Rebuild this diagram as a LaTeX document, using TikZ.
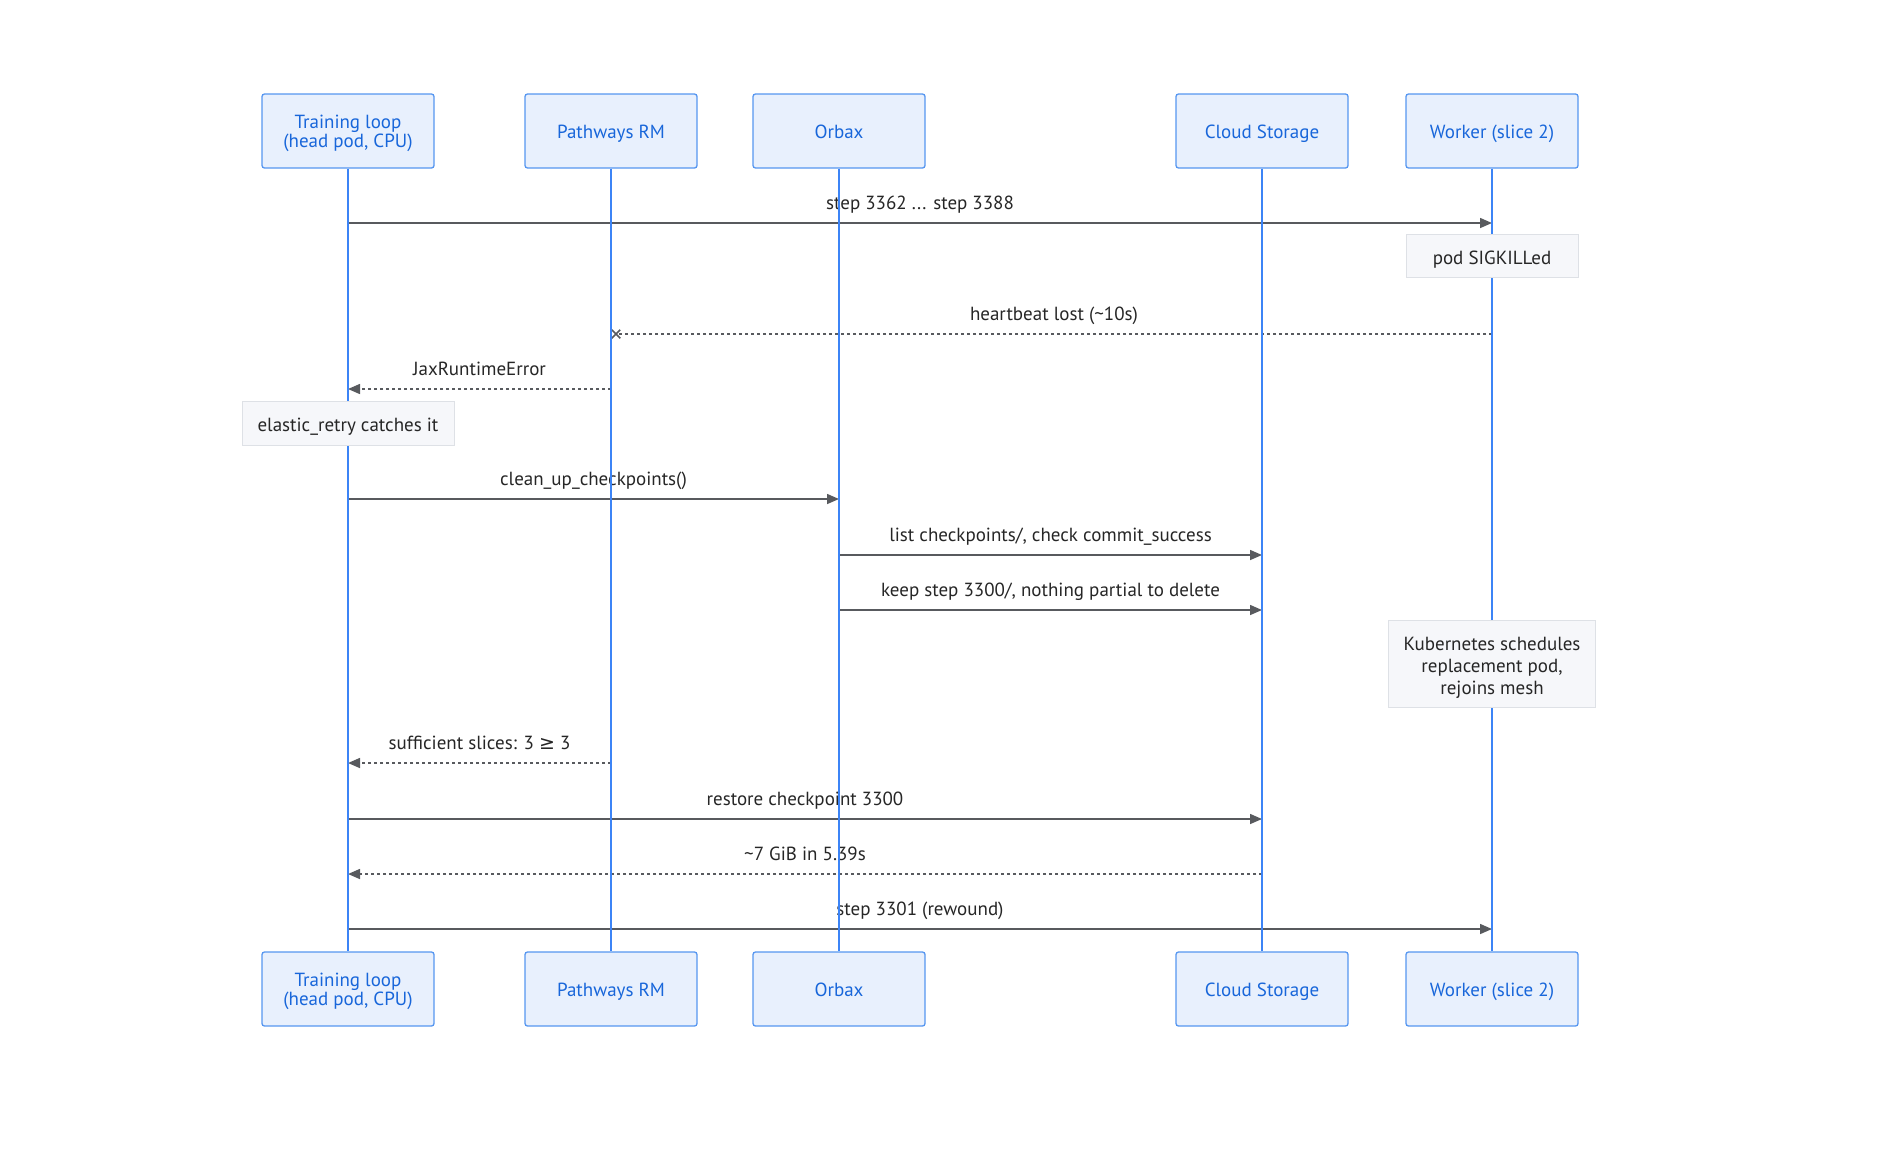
\documentclass[tikz,border=0pt]{standalone}
\usepackage{fontspec}
\setmainfont{PT Sans}
\newfontfamily\symfont{DejaVu Sans}
\usetikzlibrary{arrows.meta, shapes.misc}
\definecolor{actfill}{RGB}{232,240,253}
\definecolor{actline}{RGB}{86,150,240}
\definecolor{acttext}{RGB}{24,102,218}
\definecolor{lifeline}{RGB}{60,132,246}
\definecolor{msgline}{RGB}{88,90,94}
\definecolor{notefill}{RGB}{246,247,250}
\definecolor{noteline}{RGB}{222,225,230}

\begin{document}
\begin{tikzpicture}[x=1pt, y=-1pt,
    font=\fontsize{19}{21.6}\selectfont,
    actor/.style={draw=actline, fill=actfill, text=acttext, line width=1.3pt, rounded corners=2.5pt,
      minimum width=172pt, minimum height=74pt, align=center, text height=16pt, text depth=2pt,
      font=\fontsize{19}{19}\selectfont},
    twoline/.style={text height=33pt, text depth=0pt},
    life/.style={lifeline, line width=2pt},
    msg/.style={msgline, line width=1.5pt, -{Triangle[length=12pt, width=10pt]}},
    reply/.style={msg, dash pattern=on 3pt off 3pt},
    lbl/.style={midway, yshift=19pt, text height=14pt, text depth=4pt, text=black!85},
    note/.style={draw=noteline, fill=notefill, line width=1pt, align=center, text height=17pt,
      text depth=1pt, text=black!85}
]
\useasboundingbox (0,0) rectangle (1882,1168);

% participants
\node[actor, twoline] (loopT) at (348,131) {Training loop\\(head pod, CPU)};
\node[actor] (rmT) at (611,131) {Pathways RM};
\node[actor] (orbaxT) at (839,131) {Orbax};
\node[actor] (gcsT) at (1262,131) {Cloud Storage};
\node[actor] (workerT) at (1492,131) {Worker (slice 2)};
\node[actor, twoline] (loopB) at (348,989) {Training loop\\(head pod, CPU)};
\node[actor] (rmB) at (611,989) {Pathways RM};
\node[actor] (orbaxB) at (839,989) {Orbax};
\node[actor] (gcsB) at (1262,989) {Cloud Storage};
\node[actor] (workerB) at (1492,989) {Worker (slice 2)};

% messages
\draw[msg] (loopT |- 0,223) -- node[lbl]{step 3362 ... step 3388} (workerT |- 0,223);
\node[cross out, draw=msgline, line width=1.5pt, minimum size=7pt, inner sep=0pt] (lost) at (616,334) {};
\draw[msgline, line width=1.5pt, dash pattern=on 3pt off 3pt] (workerT |- 0,334) -- node[lbl]{heartbeat lost (\textasciitilde10s)} (lost.center);
\draw[reply] (rmT |- 0,389) -- node[lbl]{JaxRuntimeError} (loopT |- 0,389);
\draw[msg] (loopT |- 0,499) -- node[lbl]{clean\_up\_checkpoints()} (orbaxT |- 0,499);
\draw[msg] (orbaxT |- 0,555) -- node[lbl]{list checkpoints/, check commit\_success} (gcsT |- 0,555);
\draw[msg] (orbaxT |- 0,610) -- node[lbl]{keep step 3300/, nothing partial to delete} (gcsT |- 0,610);
\draw[reply] (rmT |- 0,763) -- node[lbl]{sufficient slices: 3 {\symfont ≥} 3} (loopT |- 0,763);
\draw[msg] (loopT |- 0,819) -- node[lbl]{restore checkpoint 3300} (gcsT |- 0,819);
\draw[reply] (gcsT |- 0,874) -- node[lbl]{\textasciitilde7 GiB in 5.39s} (loopT |- 0,874);
\draw[msg] (loopT |- 0,929) -- node[lbl]{step 3301 (rewound)} (workerT |- 0,929);

% lifelines
\foreach \p in {loop, rm, orbax, gcs, worker}
  \draw[life] (\p T.south) -- (\p B.north);

% notes
\node[note, minimum width=172pt, minimum height=43pt] (kill) at (1492,256) {pod SIGKILLed};
\node[note, minimum width=212pt, minimum height=44pt] (catch) at (348,423) {elastic\_retry catches it};
\node[note, minimum width=207pt, minimum height=87pt, text height=60pt, text depth=0pt] (resched) at (1492,664) {Kubernetes schedules\\replacement pod,\\rejoins mesh};
\end{tikzpicture}
\end{document}
